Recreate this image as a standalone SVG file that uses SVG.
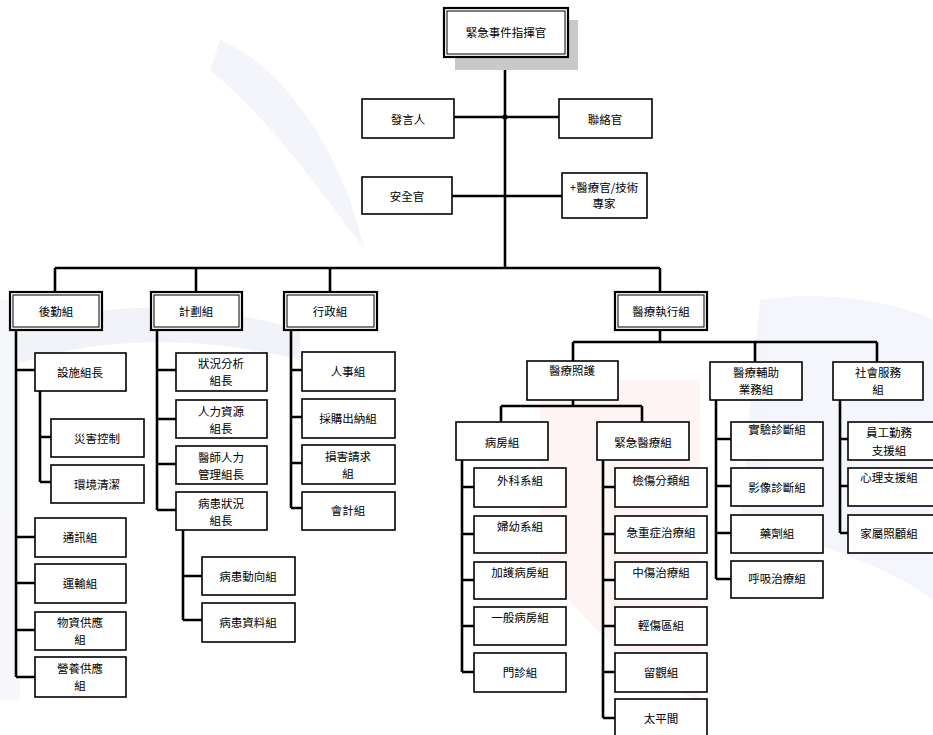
<svg xmlns="http://www.w3.org/2000/svg" width="933" height="735" viewBox="0 0 933 735">
<style>
.b{fill:#fff;stroke:#000;stroke-width:1.6}
.o{fill:#fff;stroke:#000;stroke-width:2.2}
.i{fill:none;stroke:#000;stroke-width:1}
.t{font-family:"Noto Sans CJK TC","Noto Sans CJK SC",sans-serif;font-size:11.5px;fill:#000;text-anchor:middle;dominant-baseline:central}
.c{fill:none;stroke:#000;stroke-width:2.6}
</style>
<rect width="933" height="735" fill="#fff"/>
<g id="watermark" opacity="0.4">
<path d="M0,335 C80,300 200,300 300,330 L300,360 C200,335 90,335 0,370 Z" fill="#dfe2f2"/>
<path d="M220,40 C270,60 320,120 350,200 L365,250 C320,190 270,120 210,70 Z" fill="#e3e5f3"/>
<path d="M760,300 C820,290 890,300 933,320 L933,600 C880,560 800,540 740,520 Z" fill="#e6e8f5"/>
<path d="M540,380 L700,380 L700,700 C640,680 580,620 540,560 Z" fill="#fbe6e2"/>
<path d="M0,300 L20,300 L20,700 L0,700 Z" fill="#e8e9f4"/>
</g>
<g id="connectors">
<path class="c" d="M505,57 V268 M454,117 H559 M452,196 H562 M55,268 H660 M55,268 V292 M196,268 V292 M330,268 V292 M660,268 V292"/>
<path class="c" d="M16,330 V677 M16,370 H35 M16,537 H35 M16,583 H35 M16,630 H35 M16,677 H35 M40,391 V482 M40,437 H51 M40,482 H51"/>
<path class="c" d="M157,330 V510 M157,370 H176 M157,419 H176 M157,464 H176 M157,510 H176 M183,530 V620 M183,576 H202 M183,620 H202"/>
<path class="c" d="M291,330 V508 M291,370 H302 M291,417 H302 M291,463 H302 M291,508 H302"/>
<path class="c" d="M660,330 V342 M573,342 H877 M573,342 V361 M755,342 V362 M877,342 V362"/>
<path class="c" d="M573,400 V406 M501,406 H642 M501,406 V422 M642,406 V422"/>
<path class="c" d="M462,460 V672 M462,487 H474 M462,534 H474 M462,580 H474 M462,626 H474 M462,672 H474"/>
<path class="c" d="M603,460 V718 M603,487 H615 M603,534 H615 M603,580 H615 M603,626 H615 M603,672 H615 M603,718 H615"/>
<path class="c" d="M716,400 V579 M716,439 H731 M716,486 H731 M716,533 H731 M716,579 H731"/>
<path class="c" d="M840,400 V533 M840,439 H848 M840,486 H848 M840,533 H848"/>
<circle cx="505" cy="117" r="2.6" fill="#000"/>
</g>
<g id="commander">
<rect x="455" y="20" width="123" height="50" fill="#c9c9c9"/>
<rect class="o" x="444" y="8" width="124" height="49"/>
<rect class="i" x="447" y="11" width="118" height="43"/>
<text class="t" x="506" y="32">緊急事件指揮官</text>
</g>
<g id="spokesman"><rect class="b" x="362" y="99" width="92" height="39"/><text class="t" x="408" y="119">發言人</text></g>
<g id="liaison"><rect class="b" x="559" y="99" width="93" height="39"/><text class="t" x="605" y="119">聯絡官</text></g>
<g id="safety"><rect class="b" x="362" y="177" width="90" height="37"/><text class="t" x="407" y="196">安全官</text></g>
<g id="medofficer"><rect class="b" x="562" y="173" width="85" height="45"/><text class="t" x="604" y="187">+醫療官/技術</text><text class="t" x="604" y="203">專家</text></g>

<g id="logistics"><rect class="o" x="10" y="292" width="92" height="38"/><rect class="i" x="13" y="295" width="86" height="32"/><text class="t" x="56" y="311">後勤組</text></g>
<g id="planning"><rect class="o" x="151" y="292" width="91" height="38"/><rect class="i" x="154" y="295" width="85" height="32"/><text class="t" x="196" y="311">計劃組</text></g>
<g id="admin"><rect class="o" x="284" y="292" width="93" height="38"/><rect class="i" x="287" y="295" width="87" height="32"/><text class="t" x="330" y="311">行政組</text></g>
<g id="medops"><rect class="o" x="615" y="292" width="92" height="38"/><rect class="i" x="618" y="295" width="86" height="32"/><text class="t" x="661" y="311">醫療執行組</text></g>

<g id="facility"><rect class="b" x="35" y="353" width="91" height="38"/><text class="t" x="80" y="372">設施組長</text></g>
<g id="disaster"><rect class="b" x="51" y="419" width="93" height="38"/><text class="t" x="97" y="438">災害控制</text></g>
<g id="environment"><rect class="b" x="51" y="465" width="93" height="38"/><text class="t" x="97" y="484">環境清潔</text></g>
<g id="comm"><rect class="b" x="35" y="518" width="91" height="39"/><text class="t" x="80" y="537">通訊組</text></g>
<g id="transport"><rect class="b" x="35" y="564" width="91" height="39"/><text class="t" x="80" y="583">運輸組</text></g>
<g id="supply"><rect class="b" x="35" y="612" width="91" height="38"/><text class="t" x="80" y="622">物資供應</text><text class="t" x="80" y="639">組</text></g>
<g id="nutrition"><rect class="b" x="35" y="657" width="91" height="40"/><text class="t" x="80" y="668">營養供應</text><text class="t" x="80" y="685">組</text></g>

<g id="situation"><rect class="b" x="176" y="353" width="91" height="38"/><text class="t" x="221" y="363">狀況分析</text><text class="t" x="221" y="380">組長</text></g>
<g id="hr"><rect class="b" x="176" y="400" width="91" height="38"/><text class="t" x="221" y="411">人力資源</text><text class="t" x="221" y="428">組長</text></g>
<g id="physician"><rect class="b" x="176" y="446" width="91" height="38"/><text class="t" x="221" y="457">醫師人力</text><text class="t" x="221" y="474">管理組長</text></g>
<g id="patientstatus"><rect class="b" x="176" y="492" width="91" height="38"/><text class="t" x="221" y="503">病患狀況</text><text class="t" x="221" y="520">組長</text></g>
<g id="patienttrack"><rect class="b" x="202" y="557" width="93" height="38"/><text class="t" x="248" y="576">病患動向組</text></g>
<g id="patientdata"><rect class="b" x="202" y="603" width="93" height="39"/><text class="t" x="248" y="622">病患資料組</text></g>

<g id="personnel"><rect class="b" x="302" y="352" width="93" height="39"/><text class="t" x="348" y="371">人事組</text></g>
<g id="procurement"><rect class="b" x="302" y="399" width="93" height="39"/><text class="t" x="348" y="418">採購出納組</text></g>
<g id="claims"><rect class="b" x="302" y="445" width="93" height="39"/><text class="t" x="348" y="456">損害請求</text><text class="t" x="348" y="473">組</text></g>
<g id="accounting"><rect class="b" x="302" y="492" width="93" height="38"/><text class="t" x="348" y="510">會計組</text></g>

<g id="medcare"><rect class="b" x="527" y="361" width="91" height="39"/><text class="t" x="572" y="370">醫療照護</text></g>
<g id="medsupport"><rect class="b" x="710" y="362" width="92" height="38"/><text class="t" x="756" y="372">醫療輔助</text><text class="t" x="756" y="389">業務組</text></g>
<g id="social"><rect class="b" x="833" y="362" width="90" height="38"/><text class="t" x="878" y="372">社會服務</text><text class="t" x="878" y="389">組</text></g>

<g id="ward"><rect class="b" x="456" y="422" width="92" height="38"/><text class="t" x="502" y="442">病房組</text></g>
<g id="emergency"><rect class="b" x="597" y="422" width="92" height="38"/><text class="t" x="643" y="442">緊急醫療組</text></g>

<g id="surgery"><rect class="b" x="474" y="468" width="92" height="39"/><text class="t" x="520" y="480">外科系組</text></g>
<g id="obgyn"><rect class="b" x="474" y="516" width="92" height="37"/><text class="t" x="520" y="526">婦幼系組</text></g>
<g id="icu"><rect class="b" x="474" y="562" width="92" height="37"/><text class="t" x="520" y="572">加護病房組</text></g>
<g id="generalward"><rect class="b" x="474" y="607" width="92" height="38"/><text class="t" x="520" y="617">一般病房組</text></g>
<g id="outpatient"><rect class="b" x="474" y="653" width="92" height="39"/><text class="t" x="520" y="672">門診組</text></g>

<g id="triage"><rect class="b" x="615" y="468" width="92" height="39"/><text class="t" x="661" y="480">檢傷分類組</text></g>
<g id="critical"><rect class="b" x="615" y="516" width="92" height="37"/><text class="t" x="661" y="532">急重症治療組</text></g>
<g id="moderate"><rect class="b" x="615" y="562" width="92" height="37"/><text class="t" x="661" y="572">中傷治療組</text></g>
<g id="minor"><rect class="b" x="615" y="607" width="92" height="38"/><text class="t" x="661" y="625">輕傷區組</text></g>
<g id="observation"><rect class="b" x="615" y="653" width="92" height="39"/><text class="t" x="661" y="672">留觀組</text></g>
<g id="morgue"><rect class="b" x="615" y="699" width="92" height="40"/><text class="t" x="661" y="718">太平間</text></g>

<g id="lab"><rect class="b" x="731" y="422" width="92" height="38"/><text class="t" x="777" y="429">實驗診斷組</text></g>
<g id="imaging"><rect class="b" x="731" y="468" width="92" height="38"/><text class="t" x="777" y="487">影像診斷組</text></g>
<g id="pharmacy"><rect class="b" x="731" y="515" width="92" height="38"/><text class="t" x="777" y="533">藥劑組</text></g>
<g id="respiratory"><rect class="b" x="731" y="561" width="92" height="37"/><text class="t" x="777" y="578">呼吸治療組</text></g>

<g id="staffsupport"><rect class="b" x="848" y="422" width="86" height="38"/><text class="t" x="889" y="432">員工勤務</text><text class="t" x="889" y="450">支援組</text></g>
<g id="psych"><rect class="b" x="848" y="468" width="86" height="38"/><text class="t" x="889" y="477">心理支援組</text></g>
<g id="family"><rect class="b" x="848" y="515" width="86" height="38"/><text class="t" x="889" y="533">家屬照顧組</text></g>
</svg>
